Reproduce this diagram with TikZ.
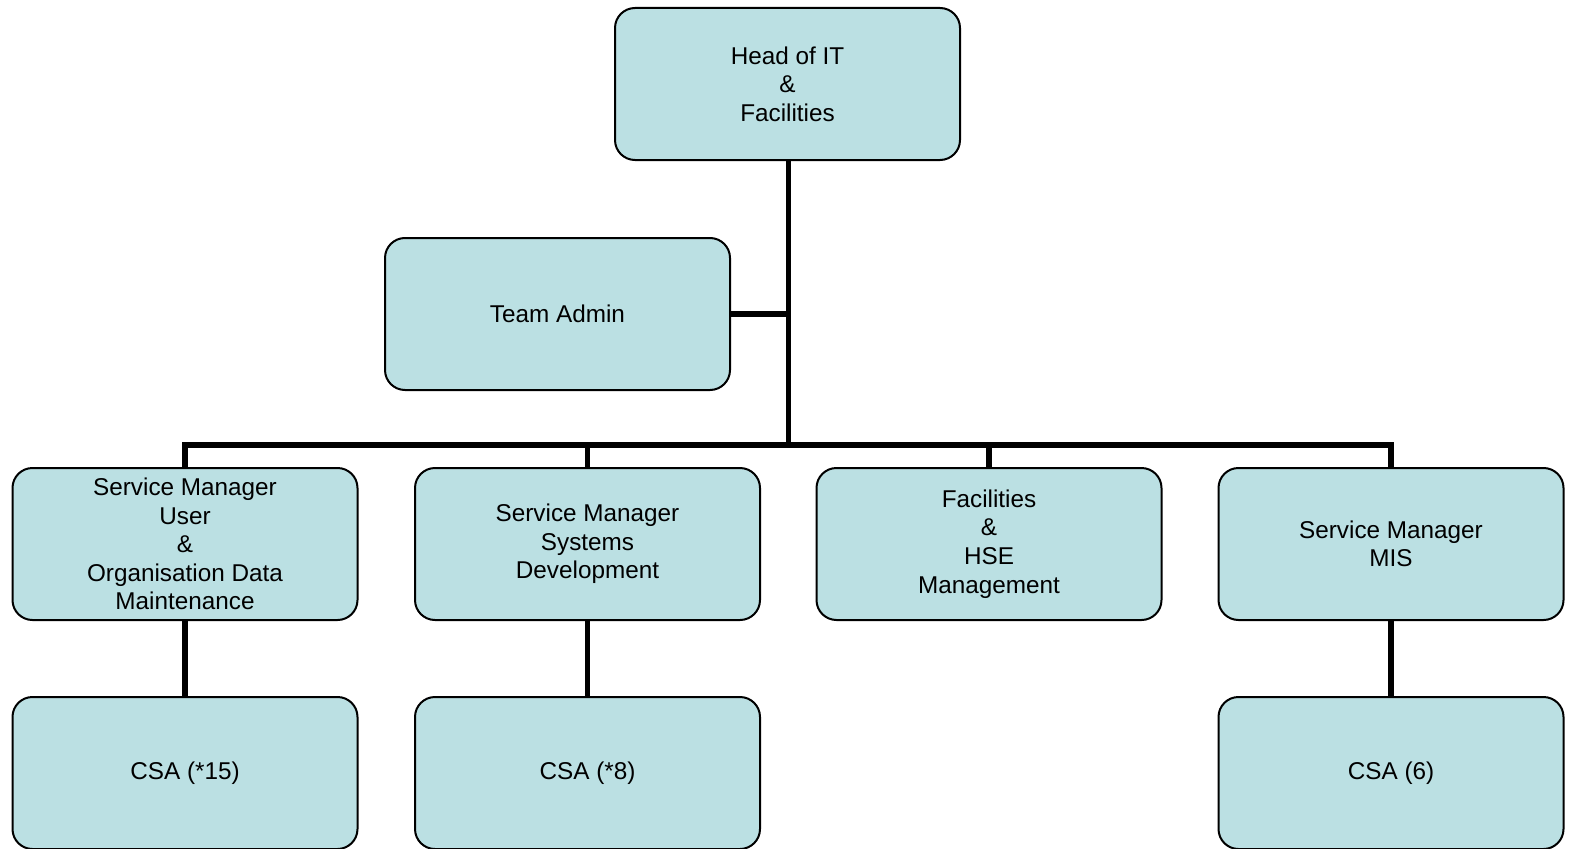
\documentclass[tikz,border=0pt]{standalone}
\usepackage{fontspec}
\setmainfont{Liberation Sans}
\usetikzlibrary{backgrounds}
\definecolor{boxfill}{RGB}{187,224,227}
\begin{document}
\begin{tikzpicture}[x=1pt,y=-1pt,
  orgbox/.style={draw=black, line width=2pt, fill=boxfill, rounded corners=20pt,
    minimum width=345pt, minimum height=152pt, align=center, inner sep=0pt,
    font=\fontsize{24.3}{28.6}\selectfont},
  link/.style={line width=5.5pt, draw=black}]
\useasboundingbox (0,0) rectangle (1570,848);

% top of the hierarchy
\node[orgbox] (head) at (787.5,84) {Head of IT\\\&\\Facilities};
\node[orgbox] (admin) at (557.5,314) {Team Admin};

% service managers
\node[orgbox] (sm1) at (185,544) {Service Manager\\User\\\&\\Organisation Data\\Maintenance};
\node[orgbox] (sm2) at (587.5,544) {Service Manager\\Systems\\Development};
\node[orgbox] (sm3) at (989,544) {\rule{0pt}{6pt}Facilities\\\&\\HSE\\Management};
\node[orgbox] (sm4) at (1391,544) {Service Manager\\MIS};

% support staff
\node[orgbox] (csa1) at (185,773) {CSA (*15)};
\node[orgbox] (csa2) at (587.5,773) {CSA (*8)};
\node[orgbox] (csa4) at (1391,773) {CSA (6)};

\coordinate (hub) at (788.5,445);

\begin{scope}[on background layer]
  \draw[link] (head.south -| hub) -- (hub);
  \draw[link] (admin.east) -- (admin.east -| hub);
  \draw[link] (sm1.north) |- (hub) -| (sm4.north);
  \draw[link] (sm2.north) -- (sm2.north |- hub);
  \draw[link] (sm3.north) -- (sm3.north |- hub);
  \draw[link] (sm1.south) -- (csa1.north);
  \draw[link] (sm2.south) -- (csa2.north);
  \draw[link] (sm4.south) -- (csa4.north);
\end{scope}
\end{tikzpicture}
\end{document}
